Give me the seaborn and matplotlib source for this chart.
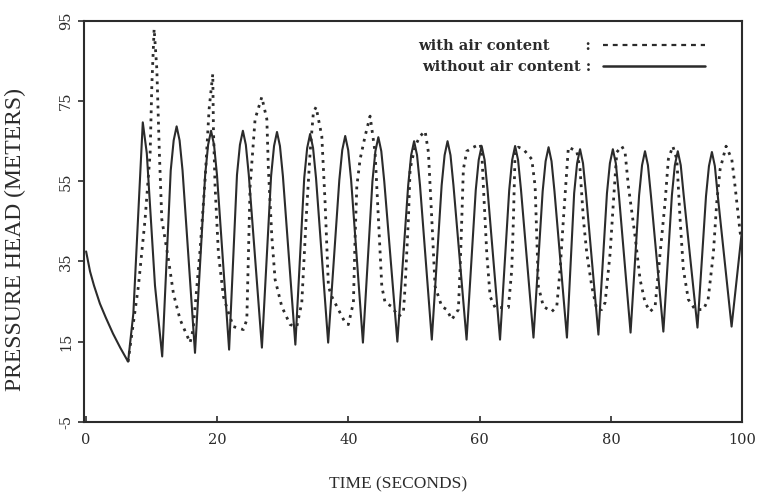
import matplotlib
matplotlib.use("Agg")
import matplotlib.pyplot as plt
import pandas as pd
import seaborn as sns
from matplotlib.lines import Line2D

# ---- data -------------------------------------------------------------
# without air content (solid line)
t_without = [0, 0.6, 1.2, 2.1, 3.0, 4.1, 5.2, 6.4,
             7.2, 8.64, 9.25, 10.5, 11.6,
             12.9, 13.35, 13.8, 14.25, 14.7, 16.6,
             18.15, 18.6, 19.05, 19.5, 19.95, 21.8,
             23.0, 23.45, 23.9, 24.35, 24.8, 26.8,
             28.2, 28.65, 29.1, 29.55, 30.0, 31.9,
             33.25, 33.7, 34.15, 34.6, 35.05, 36.9,
             38.6, 39.05, 39.5, 39.95, 40.4, 42.2,
             43.65, 44.1, 44.55, 45.0, 45.45, 47.45,
             49.1, 49.55, 50.0, 50.45, 50.9, 52.7,
             54.2, 54.65, 55.1, 55.55, 56.0, 58.0,
             59.4, 59.85, 60.3, 60.75, 61.2, 63.1,
             64.5, 64.95, 65.4, 65.85, 66.3, 68.2,
             69.6, 70.05, 70.5, 70.95, 71.4, 73.3,
             74.4, 74.85, 75.3, 75.75, 76.2, 78.1,
             79.4, 79.85, 80.3, 80.75, 81.2, 83.0,
             84.3, 84.75, 85.2, 85.65, 86.1, 88.0,
             89.3, 89.75, 90.2, 90.65, 91.1, 93.2,
             94.5, 94.95, 95.4, 95.85, 96.3, 98.4,
             100.0]
h_without = [37.5, 32.5, 29, 24.5, 21, 17, 13.5, 10,
             22, 69.7, 62, 29, 11.3,
             57.7, 65.2, 68.7, 65.2, 57.7, 12.2,
             56.6, 64.1, 67.6, 64.1, 56.6, 13,
             56.6, 64.1, 67.6, 64.1, 56.6, 13.5,
             56.3, 63.8, 67.3, 63.8, 56.3, 14.25,
             55.8, 63.3, 66.8, 63.3, 55.8, 14.75,
             55.3, 62.8, 66.3, 62.8, 55.3, 14.75,
             55, 62.5, 66, 62.5, 55, 15,
             54, 61.5, 65, 61.5, 54, 15.5,
             54, 61.5, 65, 61.5, 54, 15.5,
             52.8, 60.3, 63.8, 60.3, 52.8, 15.5,
             52.8, 60.3, 63.8, 60.3, 52.8, 16,
             52.5, 60, 63.5, 60, 52.5, 16,
             52, 59.5, 63, 59.5, 52, 16.75,
             52, 59.5, 63, 59.5, 52, 17.25,
             51.5, 59, 62.5, 59, 51.5, 17.5,
             51.5, 59, 62.5, 59, 51.5, 18.5,
             51.3, 58.8, 62.3, 58.8, 51.3, 18.75,
             43]

# with air content (dotted line)
t_with = [6.4, 7.21, 7.97, 8.99, 9.76, 10.02, 10.37, 10.78, 11.17, 11.54,
          12.55, 13.31, 14.33, 15.85, 16.31, 17.38, 18.14, 18.75, 19.31,
          19.41, 19.66, 20.17, 20.93, 21.69, 22.45, 23.98, 24.50, 24.74,
          25.0, 25.76, 26.78, 27.55, 27.79, 28.31, 28.81, 29.83, 31.10,
          32.12, 32.88, 33.54, 34.15, 34.65, 35.06, 35.93, 36.43, 36.94,
          37.45, 38.46, 39.48, 39.98, 40.75, 41.01, 41.27, 41.77, 42.53,
          43.29, 44.05, 44.56, 45.08, 45.58, 46.60, 47.61, 48.37, 48.63,
          49.13, 49.39, 50.15, 50.91, 51.68, 52.18, 52.70, 53.20, 54.22,
          54.98, 55.75, 56.75, 57.01, 57.27, 57.51, 58.03, 59.04, 60.06,
          60.32, 60.56, 61.08, 61.59, 62.35, 64.38, 64.89, 65.14, 65.40,
          65.90, 66.66, 67.94, 68.45, 68.70, 68.95, 69.71, 70.99, 71.75,
          72.26, 72.76, 73.28, 73.52, 74.80, 75.30, 75.81, 76.33, 77.09,
          77.85, 78.61, 79.12, 79.88, 80.38, 80.90, 81.66, 82.16, 82.67,
          83.69, 84.45, 85.21, 85.98, 86.74, 87.50, 88.26, 88.76, 89.44,
          90.05, 90.55, 91.05, 91.81, 92.84, 94.10, 94.82, 95.62, 96.14,
          96.65, 97.56, 98.43, 98.93, 99.70, 100.0]
h_with = [10, 19.7, 28.8, 45.5, 62, 79, 93, 83, 62, 45.5,
          35.5, 27, 20.5, 14.75, 18, 38, 55.5, 73, 81.75,
          68, 53.8, 37, 26.25, 22.25, 18.75, 18, 20.5, 37,
          53.75, 70.5, 76, 70.5, 58, 41.25, 30.5, 23.75, 19.25,
          18.75, 24.75, 45.5, 62.25, 72.25, 73.5, 66.25, 49.75, 28.75,
          26.25, 23, 19.75, 19.25, 24.75, 41.25, 53.75, 60.5, 66.25,
          71.25, 62.25, 45.5, 28.75, 24.75, 23.75, 21.25, 22.25, 28.75,
          45.5, 58, 63.75, 66.25, 67.5, 62.25, 45.5, 28.75, 23.75,
          23, 20.5, 23, 33, 45.5, 58, 62.5, 63.5, 64.25,
          62.25, 53.75, 37, 26.25, 23.5, 23.5, 33, 45.5, 62.25,
          63.5, 63, 60.5, 53.75, 41.25, 28.75, 23.75, 22.5, 23.75,
          33, 45.5, 58, 63.5, 62.5, 58, 45.5, 37, 28.75,
          23, 23, 24.75, 37, 49.75, 62.25, 63.75, 62.25, 53.75,
          41.25, 30.5, 24.75, 22.5, 23.75, 37, 49.75, 60.5, 63.75,
          60.5, 45.5, 33, 25.5, 23, 23, 25.5, 37, 49.75,
          58, 63.75, 60.5, 53.75, 42.25, 40]

x_ticks = [0, 20, 40, 60, 80, 100]
y_ticks = [-5, 15, 35, 55, 75, 95]
label_with = "with air content       :"
label_without = "without air content :"
x_title = "TIME (SECONDS)"
y_title = "PRESSURE HEAD (METERS)"

# ---- drawing -----------------------------------------------------------
sns.set_style("ticks")
plt.rcParams["axes.unicode_minus"] = False
ink = "#2b2b2b"

fig = plt.figure(figsize=(7.58, 4.98), dpi=100)
ax = fig.add_axes([0.111, 0.153, 0.868, 0.805])

df_wo = pd.DataFrame({"t": t_without, "h": h_without})
df_w = pd.DataFrame({"t": t_with, "h": h_with})

sns.lineplot(data=df_wo, x="t", y="h", ax=ax, color=ink, linewidth=1.5,
             sort=False, estimator=None)
sns.lineplot(data=df_w, x="t", y="h", ax=ax, color=ink, linewidth=2.0,
             linestyle=(0, (1.0, 1.9)), sort=False, estimator=None)

ax.set_xlim(-0.3, 100)
ax.set_ylim(-5, 95)
ax.set_xticks(x_ticks)
ax.set_yticks(y_ticks)

for s in ax.spines.values():
    s.set_visible(True)
    s.set_color(ink)
    s.set_linewidth(1.5)

ax.tick_params(axis="x", direction="in", length=4, width=1.2, color=ink,
               pad=8, labelsize=10.5, labelcolor=ink)
ax.tick_params(axis="y", direction="out", length=4, width=1.2, color=ink,
               pad=4, labelsize=10.5, labelcolor=ink, labelrotation=90)
for lab in ax.get_xticklabels() + ax.get_yticklabels():
    lab.set_fontfamily("DejaVu Serif")
for lab in ax.get_yticklabels():
    lab.set_va("center")

ax.set_xlabel(x_title, fontfamily="Liberation Serif", fontsize=12.5,
              color=ink)
ax.set_ylabel(y_title, fontfamily="Liberation Serif", fontsize=17,
              color=ink)
ax.xaxis.set_label_coords(0.477, -0.135)
ax.yaxis.set_label_coords(-0.088, 0.455)

handles = [
    Line2D([], [], color=ink, linewidth=1.6, linestyle=(0, (2.2, 2.2))),
    Line2D([], [], color=ink, linewidth=1.8),
]
leg = ax.legend(handles, [label_with, label_without], loc="upper right",
                bbox_to_anchor=(0.944, 0.955), frameon=False,
                markerfirst=False, handlelength=7.0, handletextpad=0.8,
                borderpad=0, borderaxespad=0, labelspacing=0.5,
                prop={"family": "DejaVu Serif", "weight": "bold",
                      "size": 10.5})
for txt in leg.get_texts():
    txt.set_color(ink)

fig.savefig("out.png", dpi=100)
